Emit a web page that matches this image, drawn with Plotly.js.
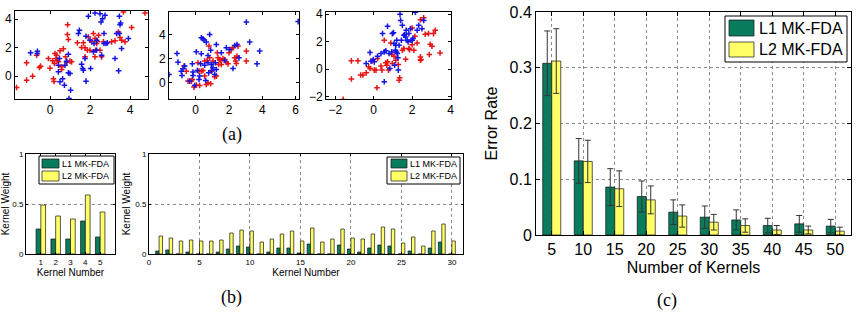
<!DOCTYPE html>
<html>
<head>
<meta charset="utf-8">
<script src="https://cdn.plot.ly/plotly-3.0.1.min.js"></script>
<style>
  html, body { margin: 0; padding: 0; background: #fff; }
  #fig { width: 856px; height: 312px; }
</style>
</head>
<body>
<div id="fig"></div>
<script>
// ---------- (a) two-class samples for three data sets ----------
const set1RedX  = [-1.67,-1.17,-0.87,-1.17,-0.53,-0.47,-0.67,-0.08,0,0.13,0.25,0.33,0.37,0.17,0.2,0.42,0.5,0.58,0.58,0.67,0.78,0.87,0.92,0.88,1.0,1.08,0.83,0.22,0.3,1.58,1.67,1.75,1.87,2.0,2.08,2.17,2.25,2.28,2.33,2.37,2.43,2.5,2.58,2.67,3.08,3.25,3.42,3.5,3.58,3.67,3.75,4.08,4.75,1.75,1.37,2.25,1.92];
const set1RedY  = [-0.79,-0.28,0,0.93,0.6,0.7,1.47,1.23,0.56,1.07,1.58,1.47,1.12,-0.19,-0.37,1.0,1.77,0.65,0.47,1.91,1.35,2.91,2.56,3.6,1.05,1.0,0.98,0.88,1.23,2.0,2.33,1.98,1.81,1.81,2.4,2.98,2.63,1.81,2.28,2.42,2.86,1.81,1.35,2.4,2.4,2.47,3.09,2.7,2.51,4.49,2.4,3.4,4.42,1.35,2.33,1.35,2.74];
const set1BlueX = [-0.97,-0.63,-0.63,0.42,0.5,0.63,0.72,0.92,1.0,0.92,0.83,0.95,1.03,0.42,0.47,1.47,1.58,1.63,1.67,1.8,1.8,1.92,2.03,2.17,2.2,2.25,2.33,2.5,2.55,2.58,2.63,2.7,2.75,2.8,2.87,2.7,3.25,3.33,3.43,3.47,3.47,3.5,3.53,3.58,3.92,1.75,1.42,2.33,2.0,0.75];
const set1BlueY = [1.63,1.74,1.58,0.3,-0.4,-0.19,-0.63,0.23,0.19,1.53,1.05,-1.56,-0.98,0.77,1.23,3.21,0.84,0.53,0.42,-0.35,2.79,4.19,0.53,1.7,2.28,4.42,1.81,4.37,3.79,1.47,4.02,2.28,4.26,2.28,2.33,2.98,1.23,2.98,0.37,2.98,4.19,3.6,3.72,1.93,2.63,1.23,2.98,2.51,2.51,0.77];

const set2RedX  = [-0.7,-0.56,-0.46,-0.26,-0.2,-0.1,0.04,0.14,0.2,0.24,0.34,0.44,0.54,0.54,0.64,0.68,0.74,0.84,0.9,0.94,1.04,1.14,1.24,1.3,1.34,1.38,1.44,1.5,1.54,1.64,1.74,1.84,1.94,2.0,2.14,2.24,2.34,2.4,2.44,2.48,2.54,3.04,3.04,0.8];
const set2RedY  = [1.39,0.97,0.14,0.14,0.28,-0.36,-0.19,1.67,0.97,-0.22,0.97,1.03,1.81,0.56,-0.14,1.86,0,2.08,-0.08,0.97,1.81,0.5,0.56,2.5,2.08,1.53,1.94,1.86,1.53,2.03,1.94,1.72,1.58,2.5,2.78,2.92,2.08,1.81,1.61,2.22,3.06,2.64,1.81,3.06];
const set2BlueX = [-1.6,-1.12,-1.06,-0.86,-0.82,-0.76,-0.66,-0.36,-0.2,-0.16,-0.16,-0.06,0.04,0.1,0.2,0.24,0.3,0.34,0.34,0.44,0.5,0.54,0.6,0.64,0.74,0.74,0.78,0.84,0.9,0.94,0.98,1.04,1.14,1.18,1.24,1.24,1.54,1.74,1.84,2.04,2.24,2.34,2.48,2.6,3.04,3.24,3.68,3.84,6.15];
const set2BlueY = [0.69,2.44,1.72,0.97,0.61,1.17,1.39,0.14,1.58,0.89,0.61,-0.22,2.58,1.03,0.28,0.56,1.58,2.42,3.75,3.67,3.56,1.47,0.19,3.39,2.28,1.67,0.83,4.03,2.72,1.53,1.03,1.25,0.69,1.67,3.19,1.11,2.5,1.86,2.92,2.78,1.19,3.11,3.19,2.08,5.06,3.39,1.58,2.64,5.1];

const set3RedX  = [-1.59,-1.16,-1.16,-0.82,-0.68,-0.56,-0.39,-0.26,-0.19,-0.09,0.03,0.12,0.17,0.2,0.38,0.43,0.55,0.63,0.68,0.72,0.77,0.89,0.94,0.97,1.06,1.15,1.32,1.35,1.28,1.49,1.57,1.66,1.83,1.87,2.0,2.09,2.14,2.26,2.43,2.46,2.43,2.6,2.68,2.85,2.89,2.94,3.03,3.11,3.2,3.45,2.0,2.43];
const set3RedY  = [-2.2,-0.72,0.6,0.6,-0.43,-0.43,-0.27,0.17,0.05,0.58,-0.07,-0.07,-1.35,0.77,0.22,-0.07,2.1,0.46,0.29,0.53,-0.07,1.9,1.06,0.41,0.94,0.65,-0.8,-0.63,0.34,1.37,1.49,0.72,1.49,1.42,1.78,1.37,2.39,1.9,0.89,0.7,0.65,3.73,2.53,2.58,1.06,1.81,1.66,2.58,2.82,1.18,2.99,3.59];
const set3BlueX = [-0.19,-0.39,-0.14,-0.02,0.38,0.55,0.46,0.55,0.63,0.72,0.8,0.84,0.94,0.97,1.03,1.06,1.09,1.13,1.15,1.2,1.23,1.26,1.28,1.32,1.37,1.4,1.44,1.49,1.57,1.62,1.66,1.69,1.74,1.79,1.83,1.91,1.95,2.0,2.05,2.17,2.26,2.34,2.51,2.6,1.18,0.2,0.03];
const set3BlueY = [1.2,0.41,0.58,0.7,1.13,-0.92,2.58,1.25,1.33,3.11,1.13,0.05,1.25,2.58,2.65,1.86,0.29,1.37,1.73,2.1,1.13,0.82,-0.07,1.73,3.98,3.54,2.1,3.18,2.46,2.51,2.34,2.82,2.1,1.98,2.58,2.94,2.1,2.1,2.22,4.14,2.82,3.18,2.94,3.54,1.25,0.94,0.53];

// ---------- (b) learned kernel weights ----------
const methodNames = ['L1 MK-FDA', 'L2 MK-FDA'];
const kernelIdx5  = [1, 2, 3, 4, 5];
const weightL1_5  = [0.25, 0.15, 0.15, 0.33, 0.17];
const weightL2_5  = [0.49, 0.38, 0.35, 0.59, 0.42];
const kernelIdx30 = Array.from({length: 30}, (_, i) => i + 1);
const weightL1_30 = [0.03,0.04,0,0.02,0,0,0.02,0.05,0.08,0.07,0,0.02,0.06,0.06,0.01,0.1,0,0,0.09,0.05,0.02,0.06,0.09,0.08,0,0.03,0,0.06,0.12,0];
const weightL2_30 = [0.18,0.16,0.13,0.14,0.13,0.13,0.14,0.21,0.24,0.23,0.12,0.15,0.2,0.23,0.13,0.26,0.12,0.15,0.25,0.16,0.15,0.2,0.27,0.25,0.11,0.17,0.08,0.23,0.3,0.13];

// ---------- (c) error rate vs. number of kernels ----------
const kernelCounts = [5, 10, 15, 20, 25, 30, 35, 40, 45, 50];
const errL1 = [0.308, 0.133, 0.086, 0.069, 0.041, 0.032, 0.027, 0.017, 0.020, 0.016];
const errL2 = [0.312, 0.132, 0.083, 0.063, 0.034, 0.023, 0.017, 0.009, 0.009, 0.007];
const sdL1  = [0.058, 0.040, 0.033, 0.028, 0.022, 0.020, 0.018, 0.013, 0.015, 0.012];
const sdL2  = [0.058, 0.038, 0.032, 0.025, 0.020, 0.014, 0.012, 0.008, 0.007, 0.007];

// ---------- styling ----------
const W = 856, H = 312;
const GREEN = 'rgb(10,124,94)';
const YELLOW = 'rgb(255,255,102)';
const RED = 'rgb(232,20,20)';
const BLUE = 'rgb(20,20,228)';
const SANS = 'Liberation Sans, Arial, sans-serif';
const SERIF = 'Liberation Serif, Times New Roman, serif';

// pixel box -> paper domain helpers
const xdom = (l, r) => [l / W, r / W];
const ydom = (t, b) => [1 - b / H, 1 - t / H];
const px = v => v / W;
const py = v => 1 - v / H;

function boxAxis(extra) {
  return Object.assign({
    showline: true, linecolor: '#000', linewidth: 1, mirror: 'ticks',
    ticks: 'inside', ticklen: 3, tickcolor: '#000', tickwidth: 1,
    zeroline: false, showgrid: false, fixedrange: true, automargin: false,
    tickfont: {family: SANS, size: 12, color: '#000'}
  }, extra);
}
const dotted = {showgrid: true, gridcolor: '#8a8a8a', griddash: 'dot', gridwidth: 1};

function cloud(x, y, color, n) {
  return {
    type: 'scatter', mode: 'markers', x: x, y: y,
    xaxis: 'x' + n, yaxis: 'y' + n, showlegend: false, hoverinfo: 'skip',
    marker: {symbol: 'cross-thin-open', size: 4, color: color, line: {color: color, width: 1.5}}
  };
}

function barPair(x, a, b, n, w, extraA, extraB) {
  const edge = {color: '#111', width: 0.7};
  return [
    Object.assign({type: 'bar', x: x, y: a, name: methodNames[0], xaxis: 'x' + n, yaxis: 'y' + n,
      width: w, offset: -w, marker: {color: GREEN, line: edge}, showlegend: false, hoverinfo: 'skip'}, extraA || {}),
    Object.assign({type: 'bar', x: x, y: b, name: methodNames[1], xaxis: 'x' + n, yaxis: 'y' + n,
      width: w, offset: 0, marker: {color: YELLOW, line: edge}, showlegend: false, hoverinfo: 'skip'}, extraB || {})
  ];
}

const traces = [
  cloud(set1RedX, set1RedY, RED, 1), cloud(set1BlueX, set1BlueY, BLUE, 1),
  cloud(set2RedX, set2RedY, RED, 2), cloud(set2BlueX, set2BlueY, BLUE, 2),
  cloud(set3RedX, set3RedY, RED, 3), cloud(set3BlueX, set3BlueY, BLUE, 3),
  ...barPair(kernelIdx5, weightL1_5, weightL2_5, 4, 0.32),
  ...barPair(kernelIdx30, weightL1_30, weightL2_30, 5, 0.34),
  ...barPair(kernelCounts, errL1, errL2, 6, 1.43,
    {error_y: {type: 'data', array: sdL1, color: '#333', thickness: 1, width: 3}},
    {error_y: {type: 'data', array: sdL2, color: '#333', thickness: 1, width: 3}})
];

const smallFont = {family: SANS, size: 8, color: '#000'};
const bigFont = {family: SANS, size: 16, color: '#000'};

const layout = {
  width: W, height: H,
  margin: {l: 0, r: 0, t: 0, b: 0},
  paper_bgcolor: '#fff', plot_bgcolor: '#fff',
  showlegend: false, barmode: 'overlay',
  font: {family: SANS, color: '#000'},

  xaxis:  boxAxis({domain: xdom(15, 148),  range: [-1.75, 4.9], tickvals: [0, 2, 4], anchor: 'y'}),
  yaxis:  boxAxis({domain: ydom(11, 99),   range: [-1.6, 4.56], tickvals: [0, 2, 4], anchor: 'x'}),
  xaxis2: boxAxis({domain: xdom(169, 299), range: [-1.6, 6.2], tickvals: [0, 2, 4, 6], anchor: 'y2'}),
  yaxis2: boxAxis({domain: ydom(12, 99),   range: [-1.35, 5.9], tickvals: [0, 2, 4], anchor: 'x2'}),
  xaxis3: boxAxis({domain: xdom(326, 451), range: [-2.48, 4.02], tickvals: [-2, 0, 2, 4], anchor: 'y3'}),
  yaxis3: boxAxis({domain: ydom(12, 99),   range: [-2.17, 4.15], tickvals: [-2, 0, 2, 4], anchor: 'x3'}),

  xaxis4: boxAxis({domain: xdom(26, 115), range: [0, 6], tickvals: kernelIdx5, anchor: 'y4',
    tickfont: smallFont, ticklen: 2,
    title: {text: 'Kernel Number', font: {family: SANS, size: 10}, standoff: 3}}),
  yaxis4: boxAxis(Object.assign({domain: ydom(154, 254), range: [0, 1], tickvals: [0, 0.5, 1], anchor: 'x4',
    tickfont: smallFont, ticklen: 2,
    title: {text: 'Kernel Weight', font: {family: SANS, size: 10}, standoff: 2}}, dotted)),
  xaxis5: boxAxis(Object.assign({domain: xdom(149, 463), range: [0, 31.1], tickvals: [0, 5, 10, 15, 20, 25, 30], anchor: 'y5',
    tickfont: smallFont, ticklen: 2,
    title: {text: 'Kernel Number', font: {family: SANS, size: 10}, standoff: 3}}, dotted)),
  yaxis5: boxAxis(Object.assign({domain: ydom(154, 254), range: [0, 1], tickvals: [0, 0.5, 1], anchor: 'x5',
    tickfont: smallFont, ticklen: 2,
    title: {text: 'Kernel Weight', font: {family: SANS, size: 10}, standoff: 2}}, dotted)),

  xaxis6: boxAxis(Object.assign({domain: xdom(536, 851), range: [2.5, 52.5], tickvals: kernelCounts, anchor: 'y6',
    tickfont: bigFont, ticklen: 4,
    title: {text: 'Number of Kernels', font: bigFont, standoff: 4}}, dotted)),
  yaxis6: boxAxis(Object.assign({domain: ydom(12, 235), range: [0, 0.4], tickvals: [0, 0.1, 0.2, 0.3, 0.4], anchor: 'x6',
    tickfont: bigFont, ticklen: 4,
    title: {text: 'Error Rate', font: bigFont, standoff: 7}}, dotted)),

  shapes: [],
  annotations: [
    {text: '(a)', x: px(232), y: py(134), xref: 'paper', yref: 'paper', showarrow: false,
     font: {family: SERIF, size: 18, color: '#000'}, xanchor: 'center', yanchor: 'middle'},
    {text: '(b)', x: px(232), y: py(297), xref: 'paper', yref: 'paper', showarrow: false,
     font: {family: SERIF, size: 18, color: '#000'}, xanchor: 'center', yanchor: 'middle'},
    {text: '(c)', x: px(667), y: py(300), xref: 'paper', yref: 'paper', showarrow: false,
     font: {family: SERIF, size: 18, color: '#000'}, xanchor: 'center', yanchor: 'middle'}
  ]
};

// boxed legends drawn in paper space (pixel boxes)
function addLegend(box, swX, rows, textX, fontSize) {
  layout.shapes.push({type: 'rect', xref: 'paper', yref: 'paper', layer: 'above',
    x0: px(box[0]), x1: px(box[2]), y0: py(box[3]), y1: py(box[1]),
    line: {color: '#000', width: 1}, fillcolor: '#fff'});
  [GREEN, YELLOW].forEach((c, i) => {
    layout.shapes.push({type: 'rect', xref: 'paper', yref: 'paper', layer: 'above',
      x0: px(swX[0]), x1: px(swX[1]), y0: py(rows[i][1]), y1: py(rows[i][0]),
      line: {color: '#111', width: 0.7}, fillcolor: c});
    layout.annotations.push({text: methodNames[i], xref: 'paper', yref: 'paper', showarrow: false,
      x: px(textX), y: py((rows[i][0] + rows[i][1]) / 2), xanchor: 'left', yanchor: 'middle',
      font: {family: SANS, size: fontSize, color: '#000'}});
  });
}
addLegend([39, 156, 114, 184], [42, 59], [[159, 168], [171, 181]], 60, 9);
addLegend([387, 157, 460, 184], [391, 407], [[159, 168], [171, 181]], 408, 9);
addLegend([725, 16, 847, 62], [729, 754], [[20, 36], [42, 57]], 757, 16);

Plotly.newPlot('fig', traces, layout, {staticPlot: true, displayModeBar: false});
</script>
</body>
</html>
